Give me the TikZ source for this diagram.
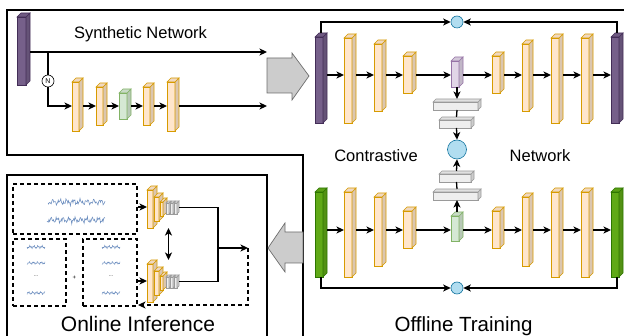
\documentclass[tikz,border=0pt]{standalone}
\usepackage{fontspec}
\setmainfont{Liberation Sans}
\usepackage{xcolor}
\usepackage{tikz}
\usetikzlibrary{arrows.meta}

\definecolor{orgF}{HTML}{FFE6CC}
\definecolor{orgD}{HTML}{D79B00}
\definecolor{purF}{HTML}{76608A}
\definecolor{purD}{HTML}{432D57}
\definecolor{lpurF}{HTML}{E1D5E7}
\definecolor{lpurD}{HTML}{9673A6}
\definecolor{grnF}{HTML}{60A917}
\definecolor{grnD}{HTML}{2D7600}
\definecolor{lgrnF}{HTML}{D5E8D4}
\definecolor{lgrnD}{HTML}{82B366}
\definecolor{slabF}{HTML}{EEEEEE}
\definecolor{slabD}{HTML}{9A9A9A}
\definecolor{simF}{HTML}{B1DDF0}
\definecolor{simD}{HTML}{10739E}
\definecolor{arrF}{HTML}{CCCCCC}
\definecolor{arrD}{HTML}{6E6E6E}
\definecolor{waveC}{HTML}{6C8EBF}

% [depth]{name}{x0}{y0}{x1}{y1}{fill}{stroke}: a layer drawn as a small cube
\newcommand{\layerbox}[8][4]{%
  \node[inner sep=0, outer sep=0, minimum width={((#5)-(#3))*1pt}, minimum height={((#6)-(#4))*1pt}]
    (#2) at ({((#3)+(#5))/2},{((#4)+(#6))/2}) {};
  \filldraw[fill=#7, draw=#8, line width=0.6pt] (#3,{(#4)+#1}) rectangle ({(#5)-#1},#6);
  \filldraw[fill=#7!86!black, draw=#8, line width=0.6pt] ({(#5)-#1},{(#4)+#1}) -- (#5,#4) -- (#5,{(#6)-#1}) -- ({(#5)-#1},#6) -- cycle;
  \filldraw[fill=#7!94!black, draw=#8, line width=0.6pt] (#3,{(#4)+#1}) -- ({(#3)+#1},#4) -- (#5,#4) -- ({(#5)-#1},{(#4)+#1}) -- cycle;
}

\begin{document}
\begin{tikzpicture}[x=1pt, y=-1pt,
  >={Stealth[length=7.5pt,width=7pt,inset=2pt]},
  conn/.style={line width=1.3pt},
  frame/.style={line width=2.2pt},
  dashbox/.style={draw, dash pattern=on 4pt off 3pt, line width=1.3pt, inner sep=0},
  wave/.style={draw=waveC, line width=0.55pt},
  sim/.style={circle, draw=simD, fill=simF, line width=0.6pt, inner sep=0},
  bigarrow/.style={fill=arrF, draw=arrD, line width=0.7pt},
  every node/.style={font=\fontsize{16.5}{18}\selectfont}]
\useasboundingbox (0,0) rectangle (624,336);
\clip (0,0) rectangle (624,336);

% outlines
\draw[frame] (303,340) -- (303,155) -- (7,155) -- (7,10) -- (627,10) -- (627,340);
\draw[frame] (7,340) -- (7,175) -- (267,175) -- (267,340);

% synthetic network
\layerbox{sIn}{17}{13}{30}{85}{purF}{purD}
\layerbox{t1}{72}{78}{83}{131}{orgF}{orgD}
\layerbox{t2}{96}{83}{107}{125}{orgF}{orgD}
\layerbox{t3}{119}{89}{131}{119}{lgrnF}{lgrnD}
\layerbox{t4}{143}{83}{154}{125}{orgF}{orgD}
\layerbox{t5}{167}{78}{179}{131}{orgF}{orgD}
\node[circle, draw, fill=white, line width=0.6pt, minimum size=12pt, inner sep=0, font=\fontsize{7}{7}\selectfont] (nrm) at (48,81) {N};
\node[anchor=base] (synLbl) at (140.5,38.5) {Synthetic Network};
\coordinate (outA) at (267,52);
\coordinate (outB) at (267,106);
\draw[conn,->] (sIn.east |- outA) -- (outA);
\draw[conn] (nrm.north) -- (nrm |- outA);
\draw[conn,->] (nrm.south) |- (t1.west |- outB);
\foreach \u/\v in {t1/t2,t2/t3,t3/t4,t4/t5}
  \draw[conn,->] (\u.east |- outB) -- (\v.west |- outB);
\draw[conn,->] (t5.east |- outB) -- (outB);
\filldraw[bigarrow] (267,58) -- (292,58) -- (292,53) -- (309,76) -- (292,100) -- (292,93) -- (267,93) -- cycle;

% contrastive network, upper branch
\layerbox{pL}{315}{33}{327}{123}{purF}{purD}
\layerbox{a1}{344}{34}{356}{123}{orgF}{orgD}
\layerbox{a2}{374}{40}{386}{111}{orgF}{orgD}
\layerbox{a3}{403}{52}{416}{93}{orgF}{orgD}
\layerbox{z1}{451}{57}{463}{87}{lpurF}{lpurD}
\layerbox{a5}{492}{52}{504}{93}{orgF}{orgD}
\layerbox{a6}{522}{40}{533}{111}{orgF}{orgD}
\layerbox{a7}{551}{34}{563}{123}{orgF}{orgD}
\layerbox{a8}{581}{34}{593}{123}{orgF}{orgD}
\layerbox{pR}{611}{33}{623}{123}{purF}{purD}
\coordinate (rowA) at (0,75);
\foreach \u/\v in {pL/a1,a1/a2,a2/a3,a3/z1,z1/a5,a5/a6,a6/a7,a7/a8,a8/pR}
  \draw[conn,->] (\u.east |- rowA) -- (\v.west |- rowA);

% contrastive network, lower branch
\layerbox{gL}{315}{188}{327}{277}{grnF}{grnD}
\layerbox{b1}{344}{188}{356}{277}{orgF}{orgD}
\layerbox{b2}{374}{193}{386}{266}{orgF}{orgD}
\layerbox{b3}{403}{207}{416}{248}{orgF}{orgD}
\layerbox{z2}{451}{212}{463}{241}{lgrnF}{lgrnD}
\layerbox{b5}{492}{207}{504}{248}{orgF}{orgD}
\layerbox{b6}{522}{193}{533}{266}{orgF}{orgD}
\layerbox{b7}{551}{188}{563}{277}{orgF}{orgD}
\layerbox{b8}{581}{188}{593}{277}{orgF}{orgD}
\layerbox{gR}{611}{188}{623}{277}{grnF}{grnD}
\coordinate (rowB) at (0,230);
\foreach \u/\v in {gL/b1,b1/b2,b2/b3,b3/z2,z2/b5,b5/b6,b6/b7,b7/b8,b8/gR}
  \draw[conn,->] (\u.east |- rowB) -- (\v.west |- rowB);

% projection heads and similarity
\layerbox[3]{h1}{433}{99}{481}{110}{slabF}{slabD}
\layerbox[3]{h2}{439}{117}{474}{128}{slabF}{slabD}
\layerbox[3]{h3}{439}{171}{474}{182}{slabF}{slabD}
\layerbox[3]{h4}{433}{189}{481}{200}{slabF}{slabD}
\node[sim, minimum size=19pt] (sMid) at (457,149.5) {};
\node[sim, minimum size=12pt] (sTop) at (457,22) {};
\node[sim, minimum size=12pt] (sBot) at (457,288) {};
\draw[conn,->] (z1.south) -- (h1.north);
\draw[conn] (h1.south) -- (h2.north);
\draw[conn,->] (h2.south) -- (sMid.north);
\draw[conn,->] (z2.north) -- (h4.south);
\draw[conn] (h4.north) -- (h3.south);
\draw[conn,->] (h3.north) -- (sMid.south);
\draw[conn,->] (pL.north) |- (sTop.west);
\draw[conn,->] (pR.north) |- (sTop.east);
\draw[conn,->] (gL.south) |- (sBot.west);
\draw[conn,->] (gR.south) |- (sBot.east);
\node[anchor=base] (conLbl) at (376,161.5) {Contrastive};
\node[anchor=base] (netLbl) at (540,161.5) {Network};
\node[anchor=base, font=\fontsize{20.5}{22}\selectfont] (offLbl) at (463.5,332) {Offline Training};

% online inference
\node[dashbox, minimum width=124pt, minimum height=50pt] (dA) at (75,209) {};
\node[dashbox, minimum width=53pt, minimum height=67pt] (dB) at (39.5,272.5) {};
\node[dashbox, minimum width=54pt, minimum height=67pt] (dC) at (110,272.5) {};
\draw[wave] plot[domain=0:57, samples=90] ({48+\x},{202+1.6*sin(53*\x)+1.4*sin(131*\x+40)+0.9*sin(277*\x)});
\draw[wave] plot[domain=0:58, samples=90] ({47+\x},{220+1.7*sin(61*\x+10)+1.3*sin(149*\x)+1.0*sin(263*\x+70)});
\foreach \bx in {27,102}
  \foreach \wy/\ph in {247/0,263/50,293/120}
    \draw[wave, line width=0.45pt] plot[domain=0:18, samples=40] ({\bx+\x},{\wy+0.9*sin(90*\x+\ph)+0.8*sin(230*\x+\ph)});
\node[font=\fontsize{5}{5}\selectfont] (dotsB) at (36,276) {...};
\node[font=\fontsize{5}{5}\selectfont] (dotsC) at (111,276) {...};
\node[font=\fontsize{6}{6}\selectfont] (plus) at (74.5,278) {+};

\foreach \s/\dy in {u/0,l/74}{
  \layerbox{\s C1}{147}{186+\dy}{157}{228+\dy}{orgF}{orgD}
  \layerbox{\s C2}{154}{193+\dy}{163}{221+\dy}{orgF}{orgD}
  \layerbox{\s C3}{160}{198+\dy}{167}{216+\dy}{orgF}{orgD}
  \layerbox[2]{\s G1}{166}{201+\dy}{171}{214+\dy}{slabF}{slabD}
  \layerbox[2]{\s G2}{170}{201+\dy}{175}{214+\dy}{slabF}{slabD}
  \layerbox[2]{\s G3}{174}{201+\dy}{179}{214+\dy}{slabF}{slabD}
}
\coordinate (rowU) at (0,207);
\coordinate (rowL) at (0,281);
\coordinate (join) at (218,248);
\coordinate (fb) at (248,248);
\coordinate (back) at (138,305);
\draw[conn,->] (dA.east |- rowU) -- (uC1.west |- rowU);
\draw[conn,->] (dC.east |- rowL) -- (lC1.west |- rowL);
\draw[conn] (uG3.east) -| (join);
\draw[conn] (lG3.east) -| (join);
\draw[conn,->] (join) -- (fb);
\draw[conn,dash pattern=on 4pt off 3pt,->] (fb) |- (back);
\draw[conn,<->] (uG1.south |- uC1.south) -- (lG1.north |- lC1.north);
\node[anchor=base, font=\fontsize{21}{23}\selectfont] (onLbl) at (138,332) {Online Inference};

\filldraw[bigarrow] (303,232) -- (285,232) -- (285,223) -- (268,248) -- (285,272) -- (285,263) -- (303,263) -- cycle;
\end{tikzpicture}
\end{document}
